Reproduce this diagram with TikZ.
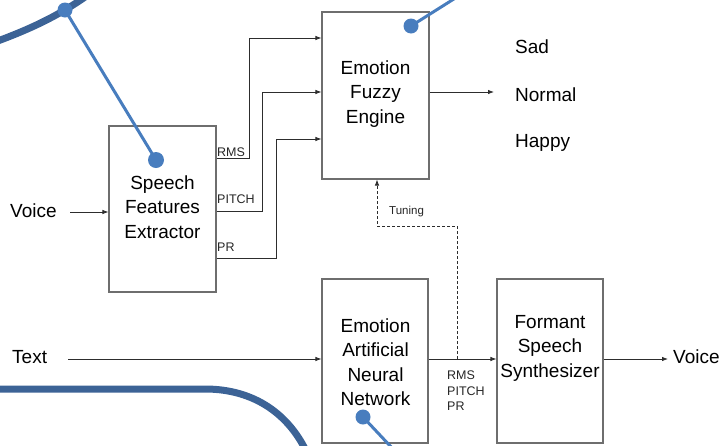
\documentclass[tikz,border=0pt]{standalone}
\usepackage{fontspec}
\setmainfont{Liberation Sans}
\usetikzlibrary{arrows.meta}
\definecolor{boxgrey}{RGB}{110,110,110}
\definecolor{wiregrey}{RGB}{45,45,45}
\definecolor{curveblue}{RGB}{60,99,150}
\definecolor{dotblue}{RGB}{72,125,190}
\tikzset{
  blockbox/.style={draw=boxgrey, line width=1.1pt, inner sep=0pt, align=center},
  bigtext/.style={font=\fontsize{19}{24.5}\selectfont, text=black, inner sep=0pt, align=center},
  smalltext/.style={font=\fontsize{12.5}{15.5}\selectfont, text=black!85, inner sep=0pt, align=left},
  wire/.style={draw=wiregrey, line width=0.8pt},
  arrowwire/.style={wire, -{Latex[length=6pt,width=4.5pt]}},
  tunewire/.style={draw=wiregrey, line width=0.8pt, dash pattern=on 3pt off 2pt, -{Latex[length=6pt,width=4.5pt]}},
  thickcurve/.style={draw=curveblue, line width=7pt},
  pointer/.style={draw=dotblue, line width=3pt},
  dot/.style={circle, fill=dotblue, inner sep=0pt, minimum size=15pt},
}
\begin{document}
\begin{tikzpicture}[x=1pt,y=-1pt]
\useasboundingbox (0,0) rectangle (727,445);
\begin{scope}
\clip (0,0) rectangle (727,445);
% blocks
\node[blockbox, minimum width=107pt, minimum height=166pt] (sfe) at (162.5,209) {};
\node[blockbox, minimum width=107pt, minimum height=167pt] (fuzzy) at (375.5,95.5) {};
\node[blockbox, minimum width=106pt, minimum height=164pt] (ann) at (375,361) {};
\node[blockbox, minimum width=106pt, minimum height=164pt] (fs) at (550,361) {};
% block texts
\node[bigtext] (sfet) at (162.5,207) {Speech\\Features\\Extractor};
\node[bigtext] (fuzzyt) at (375.5,94) {Emotion\\Fuzzy\\Engine};
\node[bigtext] (annt) at (375.5,362) {Emotion\\Artificial\\Neural\\Network};
\node[bigtext] (fst) at (550,348) {Formant\\Speech\\Synthesizer};
% outer labels
\node[bigtext, anchor=west] (voicein) at (10,211) {Voice};
\node[bigtext, anchor=west] (textin) at (12,357) {Text};
\node[bigtext, anchor=west] (sad) at (515,47) {Sad};
\node[bigtext, anchor=west] (normal) at (515,95) {Normal};
\node[bigtext, anchor=west] (happy) at (515,143) {Happy};
\node[bigtext, anchor=west] (voiceout) at (673,357) {Voice};
% small labels
\node[smalltext, anchor=west] (lrms) at (217,152) {RMS};
\node[smalltext, anchor=west] (lpitch) at (217,199) {PITCH};
\node[smalltext, anchor=west] (lpr) at (217,247) {PR};
\node[smalltext, anchor=west, font=\fontsize{11.5}{14}\selectfont] (ltune) at (389,212) {Tuning};
\node[smalltext, anchor=north west] (lparams) at (447,371) {RMS\\PITCH\\PR};
% coordinates
\coordinate (vin) at (70,212);
\coordinate (tin) at (68,359);
\coordinate (fout) at (494,92);
\coordinate (vout) at (668,359);
\coordinate (tap) at (457,359);
\coordinate (k1) at (249,38);
\coordinate (k2) at (262,92);
\coordinate (k3) at (276,139);
% connectors
\draw[arrowwire] (vin) -- (vin -| sfe.west);
\draw[arrowwire] ([yshift=-33pt]sfe.north east) -| (k1) -- (k1 -| fuzzy.west);
\draw[arrowwire] ([yshift=-86pt]sfe.north east) -| (k2) -- (k2 -| fuzzy.west);
\draw[arrowwire] ([yshift=-133pt]sfe.north east) -| (k3) -- (k3 -| fuzzy.west);
\draw[arrowwire] (fout -| fuzzy.east) -- (fout);
\draw[arrowwire] (tin) -- (tin -| ann.west);
\draw[arrowwire] (tap -| ann.east) -- (tap -| fs.west);
\draw[arrowwire] (vout -| fs.east) -- (vout);
\draw[tunewire] (tap) -- ++(0,-133) -| ([xshift=1.5pt]fuzzy.south);
% blue decorations
\draw[thickcurve] (-5,42) .. controls (25,31) and (55,18) .. (85,-3);
\draw[thickcurve] (-5,389) -- (205,389) .. controls (255,389) and (290,415) .. (308,455);
\node[dot] (d1) at (65,10) {};
\node[dot, minimum size=16pt] (d2) at (156,160) {};
\draw[pointer] (d1.center) -- (d2.center);
\node[dot] (d3) at (411,26) {};
\coordinate (e3) at (457,-3);
\draw[pointer] (d3.center) -- (e3);
\node[dot] (d4) at (363,417) {};
\coordinate (e4) at (393,449);
\draw[pointer] (d4.center) -- (e4);
\end{scope}
\end{tikzpicture}
\end{document}
